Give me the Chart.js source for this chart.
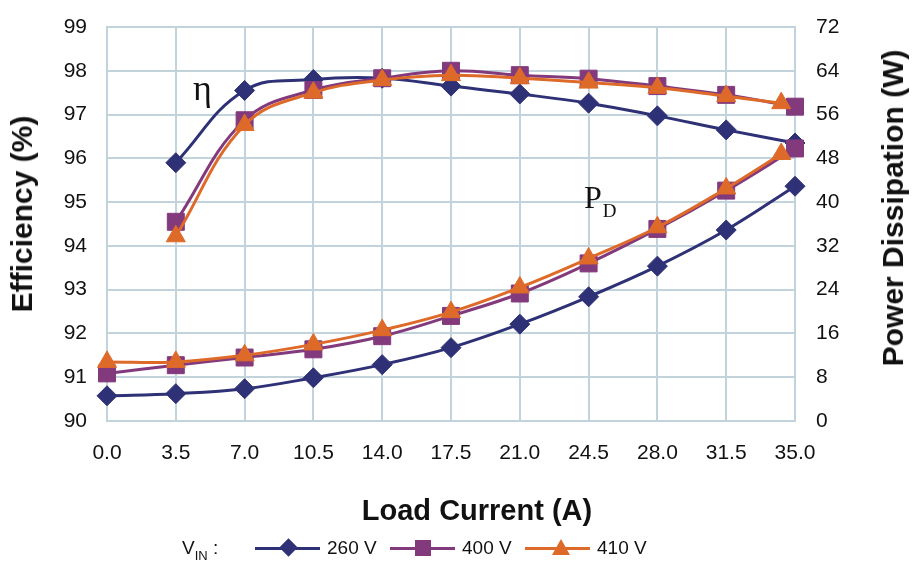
<!DOCTYPE html>
<html>
<head>
<meta charset="utf-8">
<script src="https://cdn.jsdelivr.net/npm/chart.js@4"></script>
<style>
  html, body { margin: 0; padding: 0; background: #fff; }
  #wrap { position: relative; width: 912px; height: 567px; font-family: 'Liberation Sans', Arial, sans-serif; color: #111; }
  #chart { position: absolute; left: 0; top: 0; }
  .ann { position: absolute; font-family: 'Liberation Serif', 'Times New Roman', serif; color: #111; line-height: 1; }
  .ann sub { font-size: 19px; vertical-align: baseline; position: relative; top: 9px; margin-left: 1px; }
  .ttl { position: absolute; font-weight: bold; font-size: 30px; white-space: nowrap; line-height: 1; }
  .rot { transform: translate(-50%, -50%) rotate(-90deg); }
  #legend { position: absolute; left: 0; top: 536px; width: 912px; height: 24px; font-size: 19px; }
  .lg { position: absolute; top: 0; height: 24px; line-height: 24px; white-space: nowrap; }
  .ln { position: absolute; height: 3px; top: 11px; }
  .mk { position: absolute; }
</style>
</head>
<body>
<div id="wrap">
  <canvas id="chart" width="912" height="567"></canvas>
  <div class="ann" style="left:193px; top:70px; font-size:36px;">η</div>
  <div class="ann" style="left:584px; top:181px; font-size:32px;">P<sub>D</sub></div>
  <div class="ttl rot" style="left:22px; top:214px;">Efficiency (%)</div>
  <div class="ttl rot" style="left:893px; top:208px;">Power Dissipation (W)</div>
  <div class="ttl" style="left:477px; top:510px; font-size:29px; transform: translate(-50%, -50%);">Load Current (A)</div>
  <div id="legend">
    <div class="lg" style="left:182px;">V<span style="font-size:13px; position:relative; top:6px;">IN</span> :</div>
    <div class="ln" style="left:255px; width:65px; background:#2e3175;"></div>
    <div class="mk" style="left:282px; top:5px; width:13px; height:13px; background:#2e3175; transform:rotate(45deg);"></div>
    <div class="lg" style="left:327px;">260 V</div>
    <div class="ln" style="left:390px; width:65px; background:#833a7d;"></div>
    <div class="mk" style="left:415px; top:4px; width:16px; height:16px; background:#833a7d;"></div>
    <div class="lg" style="left:462px;">400 V</div>
    <div class="ln" style="left:525px; width:65px; background:#de6a2a;"></div>
    <div class="mk" style="left:552px; top:3px; width:0; height:0; border-left:9px solid transparent; border-right:9px solid transparent; border-bottom:16px solid #de6a2a;"></div>
    <div class="lg" style="left:597px;">410 V</div>
  </div>
</div>
<script>
const loadCurrent = [0, 3.5, 7.0, 10.5, 14.0, 17.5, 21.0, 24.5, 28.0, 31.5, 35.0];
const loadCurrent410 = [0, 3.5, 7.0, 10.5, 14.0, 17.5, 21.0, 24.5, 28.0, 31.5, 34.3];

// efficiency (%), no reading at 0 A
const eff260 = [null, 95.9, 97.55, 97.8, 97.83, 97.65, 97.47, 97.26, 96.97, 96.65, 96.35];
const eff400 = [null, 94.55, 96.87, 97.56, 97.83, 98.0, 97.9, 97.82, 97.65, 97.45, 97.18];
const eff410 = [null, 94.22, 96.76, 97.5, 97.79, 97.9, 97.83, 97.73, 97.61, 97.42, 97.26];

// power dissipation (W)
const pd260 = [4.6, 5.0, 5.9, 7.9, 10.3, 13.4, 17.7, 22.7, 28.3, 34.9, 42.9];
const pd400 = [8.7, 10.2, 11.6, 13.1, 15.5, 19.2, 23.3, 28.8, 35.1, 42.1, 49.8];
const pd410 = [10.8, 10.8, 12.0, 14.0, 16.6, 19.9, 24.4, 29.7, 35.4, 42.5, 48.8];

const C260 = '#2e3175', C400 = '#833a7d', C410 = '#de6a2a';
const GRID = '#c3d3db';
const FONT = "'Liberation Sans', Arial, sans-serif";

function pts(xs, ys) {
    return xs.map((x, i) => ({ x: x, y: ys[i] })).filter(p => p.y !== null);
}

function series(label, xs, ys, color, style, radius, axis, order) {
    return {
        label: label,
        data: pts(xs, ys),
        yAxisID: axis,
        borderColor: color,
        backgroundColor: color,
        borderWidth: 3,
        tension: 0.4,
        clip: false,
        pointStyle: style,
        pointRadius: radius,
        pointHoverRadius: radius,
        pointBackgroundColor: color,
        pointBorderColor: color,
        pointBorderWidth: 1,
        order: order
    };
}

const datasets = [
    series('260 V', loadCurrent, eff260, C260, 'rectRot', 10, 'yEff', 3),
    series('400 V', loadCurrent, eff400, C400, 'rect', 12, 'yEff', 2),
    series('410 V', loadCurrent410, eff410, C410, 'triangle', 11, 'yEff', 1),
    series('260 V', loadCurrent, pd260, C260, 'rectRot', 10, 'yPd', 3),
    series('400 V', loadCurrent, pd400, C400, 'rect', 12, 'yPd', 2),
    series('410 V', loadCurrent410, pd410, C410, 'triangle', 11, 'yPd', 1)
];

// fixed axis box sizes so the plot area sits where the original does
const fitY = w => s => { s.width = w; s.paddingTop = 0; s.paddingBottom = 0; };

new Chart(document.getElementById('chart'), {
    type: 'line',
    data: { datasets: datasets },
    options: {
        responsive: false,
        animation: false,
        layout: { padding: { top: 27, bottom: 40, left: 0, right: 0 } },
        plugins: { legend: { display: false }, tooltip: { enabled: false } },
        scales: {
            x: {
                type: 'linear',
                min: 0,
                max: 35,
                afterBuildTicks: s => { s.ticks = loadCurrent.map(v => ({ value: v })); },
                afterFit: s => { s.height = 106; },
                grid: { color: GRID, lineWidth: 2, drawTicks: false },
                border: { color: GRID, width: 2 },
                ticks: {
                    padding: 20,
                    color: '#111',
                    font: { family: FONT, size: 21 },
                    callback: v => Number(v).toFixed(1)
                }
            },
            yEff: {
                position: 'left',
                min: 90,
                max: 99,
                afterFit: fitY(107),
                grid: { color: GRID, lineWidth: 2, drawTicks: false },
                border: { color: GRID, width: 2 },
                ticks: { stepSize: 1, padding: 20, color: '#111', font: { family: FONT, size: 21 } }
            },
            yPd: {
                position: 'right',
                min: 0,
                max: 72,
                afterFit: fitY(117),
                grid: { drawOnChartArea: false, drawTicks: false },
                border: { color: GRID, width: 2 },
                ticks: { stepSize: 8, padding: 21, color: '#111', font: { family: FONT, size: 21 } }
            }
        }
    }
});
</script>
</body>
</html>
